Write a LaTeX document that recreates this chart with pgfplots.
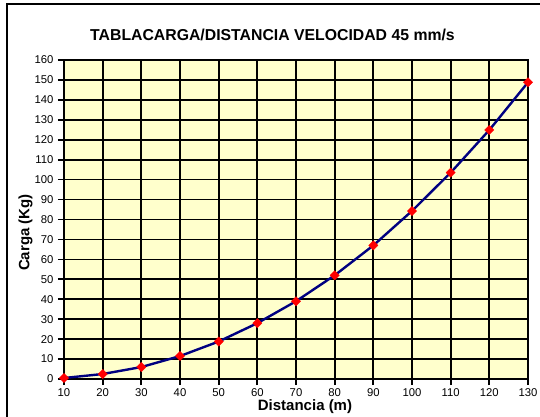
\documentclass[border=0pt]{standalone}
\usepackage{pgfplots}
\pgfplotsset{compat=1.18}
\usepackage{fontspec}
\setmainfont{Liberation Sans}
\definecolor{plotbg}{HTML}{FFFFCC}
\definecolor{navyline}{HTML}{000080}
\begin{document}
\begin{tikzpicture}[x=1pt,y=1pt]
\useasboundingbox (-64,-37) rectangle (476,379);
\draw[line width=1.8pt] (-57,-60) -- (-57,375) -- (500,375);
\begin{axis}[
  at={(0,0)}, anchor=origin,
  scale only axis, width=464pt, height=319pt,
  xmin=10, xmax=130, ymin=0, ymax=160,
  xtick={10,20,...,130}, ytick={0,10,...,160},
  axis background/.style={fill=plotbg},
  grid=major,
  major grid style={black, line width=1.7pt},
  axis line style={black, line width=1.7pt},
  tick align=outside, major tick length=6pt,
  tick style={black, line width=1.7pt},
  xtick pos=left, ytick pos=left,
  /pgf/number format/assume math mode=true,
  ticklabel style={font=\fontsize{11.3}{13}\selectfont},
  yticklabel style={xshift=-1pt},
  clip=false,
]
\addplot[navyline, line width=2.4pt, mark=square*, mark size=3.3pt,
  mark options={red, fill=red, line width=0.3pt, rotate=45}] coordinates {
(10,0.5) (20,2.5) (30,6) (40,11.5) (50,18.8) (60,28) (70,39) (80,52)
(90,67) (100,84.3) (110,103.5) (120,124.9) (130,148.8)
};
\end{axis}
\node[font=\bfseries\fontsize{15.8}{18}\selectfont] at (208.5,344) {TABLACARGA/DISTANCIA VELOCIDAD 45 mm/s};
\node[font=\bfseries\fontsize{15}{17}\selectfont] at (241,-28) {Distancia (m)};
\node[font=\bfseries\fontsize{15}{17}\selectfont, rotate=90] at (-38.5,146.5) {Carga (Kg)};
\end{tikzpicture}
\end{document}
